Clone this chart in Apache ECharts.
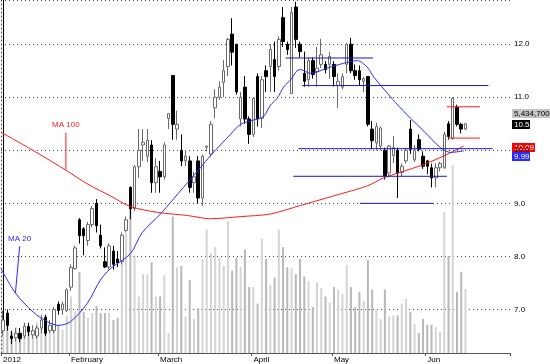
<!DOCTYPE html>
<html><head><meta charset="utf-8">
<script src="https://cdn.jsdelivr.net/npm/echarts@6/dist/echarts.min.js"></script>
<style>html,body{margin:0;padding:0;background:#fff}#c{width:550px;height:364px}</style>
</head><body><div id="c"></div>
<script>
// ---- data ----
const monthLabels = ['2012', 'February', 'March', 'April', 'May', 'Jun'];
const monthStartIdx = [0, 16, 37, 59, 78, 100];
const slotCount = 120;

// [open, close, low, high]
const ohlc = [
  [6.60,6.80,6.50,6.98],[6.93,6.70,6.60,7.00],[6.50,6.45,6.35,6.60],[6.47,6.55,6.40,6.65],
  [6.55,6.45,6.38,6.65],[6.50,6.68,6.45,6.75],[6.68,6.58,6.50,6.75],[6.52,6.60,6.45,6.70],
  [6.50,6.65,6.45,6.70],[6.65,6.80,6.55,6.90],[6.85,6.55,6.50,6.90],[6.60,6.70,6.55,6.80],
  [6.60,7.00,6.55,7.05],[7.10,6.98,6.90,7.15],[7.00,7.10,6.90,7.15],[6.98,7.37,6.95,7.40],
  [7.42,7.79,7.35,7.85],[7.77,8.16,7.75,8.20],[8.69,8.39,8.24,8.72],[8.52,8.39,8.02,8.55],
  [8.30,8.60,8.20,8.65],[8.60,8.90,8.55,8.95],[9.00,8.58,8.45,9.08],[8.40,8.20,8.15,8.60],
  [7.90,7.80,7.78,8.17],[7.80,8.20,7.75,8.25],[8.10,7.85,7.75,8.20],[7.95,7.88,7.80,8.10],
  [7.90,8.40,7.85,8.45],[8.49,8.69,8.45,8.75],[9.30,8.90,8.70,9.32],[8.90,9.69,8.85,9.72],
  [9.69,10.00,9.48,10.40],[10.10,10.15,9.80,10.40],[9.89,10.19,9.78,10.40],[10.10,9.39,9.20,10.19],
  [9.39,9.69,9.20,9.85],[9.60,9.50,9.20,9.80],[9.50,10.10,9.45,10.15],[10.60,10.69,10.40,10.70],
  [11.41,10.49,10.20,11.41],[10.40,10.49,10.20,10.75],[10.00,9.80,9.70,10.30],[9.80,9.89,9.70,10.00],
  [9.80,9.30,9.20,9.89],[9.39,9.50,9.20,9.60],[9.80,9.10,9.00,9.89],[9.10,9.89,8.95,9.92],
  [10.06,10.08,9.98,10.08],[9.93,10.49,9.88,10.55],[10.80,11.00,10.60,11.15],[11.00,11.19,10.95,11.30],
  [11.28,11.50,11.00,11.70],[11.58,12.09,11.40,12.12],[12.19,11.85,11.60,12.49],[12.00,11.10,11.05,12.00],
  [10.59,11.00,10.45,11.10],[11.19,10.59,10.50,11.40],[10.59,10.30,10.12,10.64],[10.30,10.98,10.25,11.00],
  [11.39,10.59,10.45,11.45],[10.60,11.33,10.42,11.40],[11.50,11.39,11.10,11.60],[11.58,11.90,11.10,12.00],
  [11.71,11.39,11.10,12.05],[11.58,12.09,11.50,12.15],[12.50,12.05,11.95,12.70],[12.00,11.90,11.80,12.05],
  [11.07,12.60,11.07,12.70],[12.70,12.09,11.93,12.80],[12.00,11.86,11.75,12.05],[11.45,11.30,11.20,11.86],
  [11.33,11.69,11.20,11.75],[11.69,11.43,11.35,11.75],[11.48,11.55,11.20,11.95],[11.62,11.80,11.55,12.10],
  [11.62,11.52,11.45,11.68],[11.62,11.77,11.35,11.85],[11.62,11.39,11.20,11.68],[11.22,11.30,10.80,11.45],
  [11.19,11.39,11.15,11.45],[11.62,12.00,11.45,12.02],[12.00,11.50,11.45,12.12],[11.50,11.41,11.33,11.62],
  [11.50,11.33,11.22,11.60],[11.30,11.35,11.10,11.39],[11.39,10.49,10.45,11.39],[10.40,10.18,10.02,10.55],
  [10.14,10.45,10.00,10.52],[10.08,10.42,10.00,10.45],[10.00,9.52,9.45,10.05],[9.57,10.08,9.50,10.10],
  [9.90,10.05,9.76,10.27],[10.00,9.57,9.10,10.05],[9.58,9.70,9.50,9.75],[9.80,10.00,9.75,10.05],
  [10.40,10.02,9.93,10.57],[9.82,10.00,9.78,10.10],[10.20,10.02,9.98,10.30],[9.89,9.70,9.65,9.98],
  [9.80,9.70,9.55,9.82],[9.67,9.48,9.30,9.75],[9.48,9.67,9.30,9.75],[9.67,9.75,9.60,9.78],
  [9.67,10.30,9.65,10.35],[10.50,10.26,10.20,10.55],[10.22,10.98,10.20,11.00],[10.81,10.49,10.45,10.86],
  [10.49,10.40,10.32,10.52],[10.40,10.50,10.38,10.52]
];

// volume in millions of shares
const volumeM = [
  2.4,3.0,1.8,2.2,1.5,2.6,2.0,1.4,2.6,3.0,3.2,1.8,3.6,2.4,2.0,3.2,
  4.8,3.6,6.9,3.5,3.0,3.4,4.0,3.4,3.4,3.4,2.8,3.0,8.1,10.2,14.1,
  8.3,4.8,6.7,6.7,7.7,4.8,4.8,6.6,1.7,11.6,7.3,7.4,3.1,6.2,2.9,3.8,8.0,10.5,8.5,
  9.0,8.1,7.4,11.2,7.0,8.1,7.3,8.8,5.6,5.6,4.2,9.7,8.0,5.8,6.4,10.5,9.0,7.3,7.2,6.7,
  8.0,6.5,6.1,3.9,6.0,5.5,4.8,4.3,5.6,5.4,5.0,7.5,5.6,3.9,5.2,4.4,7.9,5.4,3.7,2.9,
  5.4,3.1,3.2,3.2,4.2,4.6,3.5,2.5,1.7,2.9,2.4,2.4,2.2,1.8,12.0,8.2,16.0,5.2,6.9,5.4347
];

// moving averages: [slot index, value]
const ma20Points = [
  [-0.5,7.77],[2.9,7.31],[7.1,6.95],[10.4,6.77],[13.1,6.70],[15.9,6.77],[19.8,7.11],[22.9,7.55],
  [25.3,7.77],[30.0,8.05],[32.8,8.45],[37.1,8.80],[42.5,9.30],[46.5,9.67],[48.9,9.90],[53.6,10.30],
  [56.0,10.49],[59.0,10.57],[61.4,10.64],[63.0,10.85],[64.6,10.98],[66.2,11.20],[67.8,11.33],[69.3,11.50],
  [70.1,11.52],[72.5,11.45],[76.4,11.55],[80.3,11.64],[83.5,11.69],[85.8,11.57],[87.4,11.38],[89.8,11.15],
  [92.5,10.90],[96.1,10.60],[99.2,10.36],[103.1,10.05],[105.5,9.96],[108.6,9.99]
];
const ma100Points = [
  [-0.5,10.34],[3.3,10.17],[8.7,9.92],[14.7,9.63],[20.0,9.36],[25.3,9.14],[30.0,8.94],[36.4,8.83],
  [43.5,8.77],[48.9,8.71],[56.0,8.75],[63.0,8.80],[70.1,8.96],[77.9,9.14],[85.9,9.33],[89.7,9.48],
  [98.4,9.71],[103.8,9.89],[108.6,10.08]
];

// horizontal level lines: [from slot, to slot, price]
const blueLevels = [
  [66.6,87.2,11.74],[70.5,114.4,11.22],[69.6,115.4,10.03],[68.4,104.6,9.51],[84.1,101.4,9.00]
];
const redLevels = [
  [104.6,112.4,10.82],[104.9,112.4,10.23]
];

const priceTicks = [7, 8, 9, 10, 11, 12];
const lastVolumeText = '5,434,700';
const lastCloseText = '10.5';
const ma100Text = '10.09';
const ma20Text = '9.99';

// ---- chart ----
const FONT = '"Liberation Sans", Arial, sans-serif';
const cats = [];
for (let i = 0; i < slotCount; i++) {
  const k = monthStartIdx.indexOf(i);
  cats.push(k >= 0 ? monthLabels[k] : '');
}
const candles = ohlc.map(r => r);
const vols = volumeM.map((v, i) => ({
  value: v * 1e6,
  itemStyle: { color: ohlc[i][1] >= ohlc[i][0] ? '#d4d4d4' : '#b8b8b8' }
}));

const series = [];
series.push({
  type: 'bar', xAxisIndex: 0, yAxisIndex: 1, data: vols, barWidth: 2,
  silent: true, z: 1
});
series.push({
  type: 'candlestick', xAxisIndex: 0, yAxisIndex: 0, data: candles, barWidth: 3,
  itemStyle: { color: '#ffffff', color0: '#000000', borderColor: '#6a6a6a', borderColor0: '#000000', borderWidth: 1 },
  z: 3
});
series.push({
  type: 'line', xAxisIndex: 1, yAxisIndex: 0, data: ma100Points, showSymbol: false, smooth: 0.3,
  lineStyle: { color: '#ff1a1a', width: 1 }, z: 4
});
series.push({
  type: 'line', xAxisIndex: 1, yAxisIndex: 0, data: ma20Points, showSymbol: false, smooth: 0.3,
  lineStyle: { color: '#2a2aff', width: 1 }, z: 4
});
blueLevels.forEach(l => series.push({
  type: 'line', xAxisIndex: 1, yAxisIndex: 0, data: [[l[0], l[2]], [l[1], l[2]]],
  showSymbol: false, lineStyle: { color: '#1616c8', width: 1 }, z: 5
}));
redLevels.forEach(l => series.push({
  type: 'line', xAxisIndex: 1, yAxisIndex: 0, data: [[l[0], l[2]], [l[1], l[2]]],
  showSymbol: false, lineStyle: { color: '#ff1a1a', width: 1 }, z: 5
}));
// annotation pointers
const annotations = [
  { text: 'MA 100', color: '#ff1a1a', top: [14.8, 10.33], bottom: [14.8, 9.64] },
  { text: 'MA 20', color: '#2a2aff', top: [3.9, 8.19], bottom: [2.9, 7.31] }
];
annotations.forEach(a => series.push({
  type: 'line', xAxisIndex: 1, yAxisIndex: 0,
  data: [{ value: a.top, label: { show: true, formatter: a.text, position: 'top', distance: 3,
           color: a.color, fontSize: 8, fontFamily: FONT } }, { value: a.bottom }],
  showSymbol: true, symbolSize: 0.01, lineStyle: { color: a.color, width: 1 }, z: 6
}));

const option = {
  animation: false,
  backgroundColor: '#ffffff',
  grid: { left: 1, right: 40, top: -1, bottom: 11, show: false },
  xAxis: [
    {
      type: 'category', data: cats, boundaryGap: true,
      axisLine: { show: true, lineStyle: { color: '#555', width: 1 } },
      axisTick: { show: true, length: 3, lineStyle: { color: '#555' },
                  interval: (idx) => monthStartIdx.indexOf(idx) >= 0 },
      axisLabel: { interval: 0, align: 'left', margin: 3, fontSize: 8, color: '#000', fontFamily: FONT },
      splitLine: { show: false }
    },
    { type: 'value', min: -0.5, max: slotCount - 0.5, show: false }
  ],
  yAxis: [
    {
      type: 'value', position: 'right', min: 6.179, max: 12.833, minInterval: 1, maxInterval: 1,
      axisLine: { show: true, lineStyle: { color: '#000', width: 1 } },
      axisTick: { show: false },
      axisLabel: { showMinLabel: false, showMaxLabel: false, margin: 4, fontSize: 8, color: '#000',
                   fontFamily: FONT, formatter: v => priceTicks.indexOf(Math.round(v)) >= 0 && Math.abs(v - Math.round(v)) < 1e-6 ? v.toFixed(1) : '' },
      splitLine: { show: true, lineStyle: { color: '#444', type: [1, 3], width: 1 } }
    },
    {
      type: 'value', position: 'left', min: 0, max: 30e6,
      axisLine: { show: true, lineStyle: { color: '#444', type: [1, 3], width: 1 } },
      axisTick: { show: false }, axisLabel: { show: false }, splitLine: { show: false }
    }
  ],
  series: series
};

const chart = echarts.init(document.getElementById('c'), null, { renderer: 'canvas' });
chart.setOption(option);

// value boxes on the right, positioned through the price scale
const px = v => chart.convertToPixel({ yAxisIndex: 0 }, v);
const lastClose = ohlc[ohlc.length - 1][1];
const lastMa100 = ma100Points[ma100Points.length - 1][1];
const yClose = px(lastClose);
const yMa100 = px(lastMa100);
const boxH = 9;
function box(text, cy, w, fill, txt) {
  return {
    type: 'group', x: 512, y: Math.round(cy - boxH / 2),
    children: [
      { type: 'rect', shape: { x: 0, y: 0, width: w, height: boxH }, style: { fill: fill } },
      { type: 'text', style: { x: 2, y: boxH / 2 + 0.5, text: text, fill: txt, font: '8px ' + FONT, verticalAlign: 'middle' } }
    ]
  };
}
chart.setOption({
  graphic: [
    box(lastVolumeText, yClose - 10.5, 40, '#c4c4c4', '#000'),
    box(lastCloseText, yClose + 0.5, 18, '#000000', '#fff'),
    box(ma100Text, yMa100 + 1, 23, '#ff0000', '#fff'),
    box(ma20Text, yMa100 + 10.5, 18, '#2a2aff', '#fff')
  ]
});
</script>
</body></html>
